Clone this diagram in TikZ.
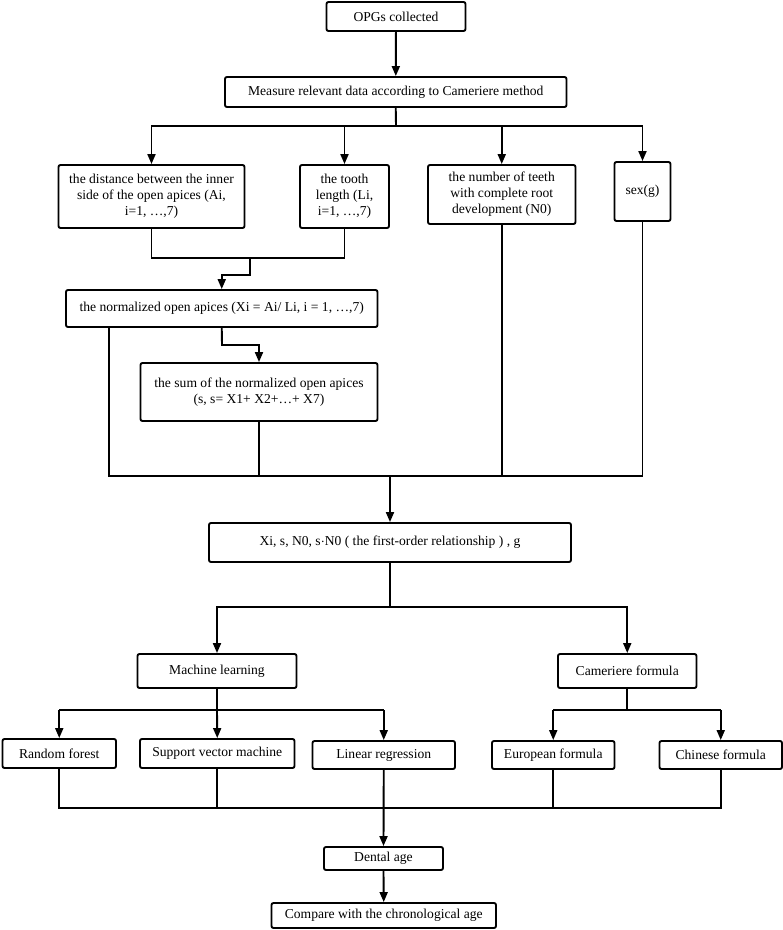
\documentclass[tikz,border=0pt]{standalone}
\usepackage{fontspec}
\setmainfont{Liberation Serif}
\usetikzlibrary{arrows.meta}
\tikzset{
  box/.style={draw, rounded corners=2pt, line width=1.9pt, align=center, inner sep=0pt,
    font=\fontsize{13.6}{16}\selectfont},
  link/.style={line width=1.9pt},
  arr/.style={line width=1.9pt, -{Triangle[length=10pt,width=8pt]}},
}
% #1 name, #2 x1, #3 y1, #4 x2, #5 y2, #6 text
\newcommand{\bx}[6]{\node[box, minimum width={#4-#2}, minimum height={#5-#3}]
  (#1) at ({(#2+#4)/2},{(#3+#5)/2}) {#6};}
\begin{document}
\begin{tikzpicture}[x=1pt,y=-1pt]
\useasboundingbox (0,0) rectangle (783,930);
\bx{opg}{326.5}{2}{465.5}{31}{OPGs collected}
\bx{meas}{225}{77}{566.5}{107}{Measure relevant data according to Cameriere method}
\bx{dist}{58.5}{165}{244.5}{228}{the distance between the inner\\side of the open apices (Ai,\\i=1, \dots,7)}
\bx{tooth}{300}{165}{389}{228}{the tooth\\length (Li,\\i=1, \dots,7)}
\bx{numb}{428}{165}{575.5}{224}{the number of teeth\\with complete root\\development (N0)}
\bx{sex}{614.5}{162}{670.5}{221}{sex(g)}
\bx{norm}{66}{290}{377.5}{327}{the normalized open apices (Xi = Ai/ Li, i = 1, \dots,7)}
\bx{sum}{140.5}{363}{377.5}{421}{the sum of the normalized open apices\\(s, s= X1+ X2+\dots+ X7)}
\bx{xi}{209}{523}{571}{562}{Xi, s, N0, s$\cdot$N0 ( the first-order relationship ) , g}
\bx{ml}{137.5}{654}{296.5}{688}{Machine learning}
\bx{cam}{558}{654}{696.5}{688}{Cameriere formula}
\bx{rf}{2.5}{739}{116}{768}{Random forest}
\bx{svm}{140}{739}{294.5}{768}{Support vector machine}
\bx{lr}{312.5}{741}{455}{769}{Linear regression}
\bx{eu}{492}{741}{614.5}{769}{European formula}
\bx{cn}{659.5}{741}{782}{769}{Chinese formula}
\bx{dent}{324}{847}{443}{870}{Dental age}
\bx{comp}{271.5}{903}{496}{928}{Compare with the chronological age}
% coordinates
\coordinate (b1) at (396,126);
\coordinate (j1) at (250,258);
\coordinate (j2) at (250,275);
\coordinate (j3) at (222,345);
\coordinate (b2l) at (109,476);
\coordinate (b2r) at (642.5,476);
\coordinate (b3) at (390,607);
\coordinate (b4) at (0,710);
\coordinate (b5) at (0,808);
% connectors
\draw[arr] (opg) -- (meas);
\draw[link] (meas.south) -- (b1);
\draw[arr] (b1) -| (dist.north);
\draw[arr] (b1) -| (tooth.north);
\draw[arr] (b1) -| (numb.north);
\draw[arr] (b1) -| (sex.north);
\draw[link] (dist.south) |- (j1);
\draw[link] (tooth.south) |- (j1);
\draw[arr] (j1) -- (j2) -| (norm.north);
\draw[arr] (norm.south) -- (j3) -| (sum.north);
\draw[link] (norm.south -| b2l) -- (b2l) -- (b2r) -- (sex.south);
\draw[link] (sum.south) -- (sum.south |- b2l);
\draw[link] (numb.south) -- (numb.south |- b2l);
\draw[arr] (xi.north |- b2l) -- (xi.north);
\draw[link] (xi.south) -- (b3);
\draw[arr] (b3) -| (ml.north);
\draw[arr] (b3) -| (cam.north);
\draw[link] (ml.south) -- (ml.south |- b4);
\draw[arr] (rf.north |- b4) -- (rf.north);
\draw[link] (rf.north |- b4) -- (lr.north |- b4);
\draw[arr] (ml.south |- b4) -- (svm.north);
\draw[arr] (lr.north |- b4) -- (lr.north);
\draw[link] (cam.south) -- (cam.south |- b4);
\draw[arr] (eu.north |- b4) -- (eu.north);
\draw[link] (eu.north |- b4) -- (cn.north |- b4);
\draw[arr] (cn.north |- b4) -- (cn.north);
\draw[link] (rf.south) -- (rf.south |- b5) -- (cn.south |- b5) -- (cn.south);
\draw[link] (svm.south) -- (svm.south |- b5);
\draw[link] (eu.south) -- (eu.south |- b5);
\draw[arr] (lr.south) -- (dent.north);
\draw[arr] (dent.south) -- (comp.north);
\end{tikzpicture}
\end{document}
